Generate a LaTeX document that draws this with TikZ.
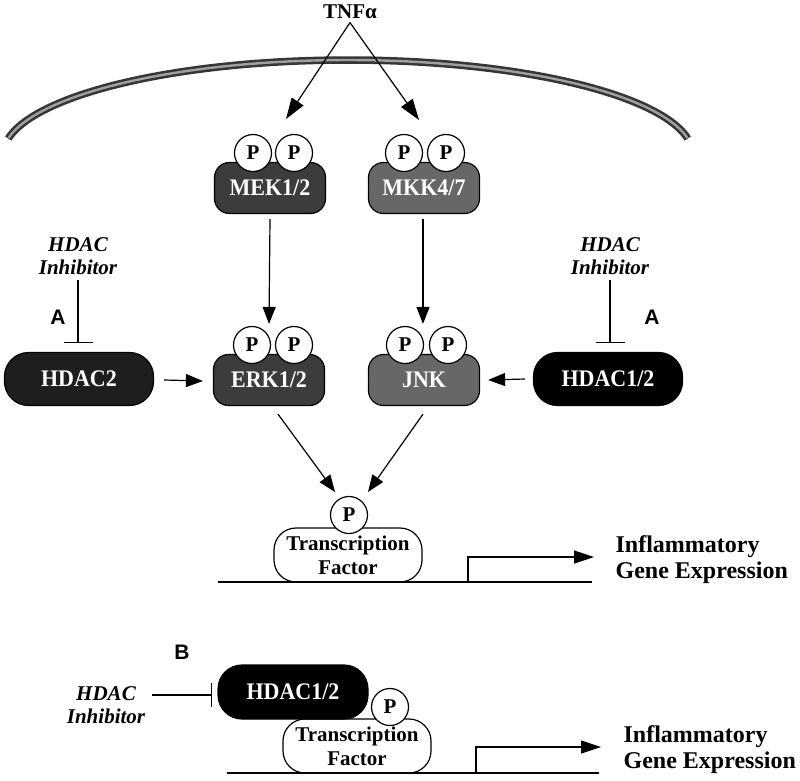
\documentclass[tikz,border=0pt]{standalone}
\usepackage{fontspec}
\usepackage{graphicx}
\setmainfont{Liberation Serif}
\newfontfamily\panelsans{Liberation Sans}
\usetikzlibrary{arrows.meta}
\newcommand{\lab}{\bfseries\fontsize{21}{24}\selectfont}
\newcommand{\blab}{\bfseries\fontsize{22}{24}\selectfont}
\newcommand{\tall}[1]{\scalebox{1}[1.08]{#1}}
\newcommand{\ilab}{\bfseries\itshape\fontsize{21}{23}\selectfont}
\newcommand{\glab}{\bfseries\fontsize{24}{26}\selectfont}
\newcommand{\plab}{\panelsans\bfseries\fontsize{21}{24}\selectfont}
\definecolor{mekc}{HTML}{3C3C3C}
\definecolor{mkkc}{HTML}{676767}
\definecolor{hdtwo}{HTML}{1E1E1E}
\definecolor{memout}{HTML}{363636}
\definecolor{memin}{HTML}{A0A0A0}
\begin{document}
\begin{tikzpicture}[x=1pt,y=-1pt,line width=1.2pt,
  arr/.style={-{Triangle[length=17pt,width=13pt]}},
  bigarr/.style={-{Triangle[length=21pt,width=14pt]}},
  inh/.style={-{Bar[width=29pt]}},
  kin/.style={draw,rounded corners=15pt,minimum width=111pt,minimum height=51pt,inner sep=0pt,text=white,font=\blab},
  hd/.style={draw,rounded corners=24pt,minimum width=149pt,minimum height=53pt,inner sep=0pt,text=white,font=\blab},
  pc/.style={circle,draw,fill=white,minimum size=37pt,inner sep=0pt,font=\lab},
  tfs/.style={draw,fill=white,rounded corners=22pt,minimum width=148pt,minimum height=54pt,inner sep=0pt,align=center,font=\lab},
  inhtext/.style={align=center,font=\ilab,inner sep=0pt},
  gene/.style={anchor=west,align=left,font=\glab,inner sep=0pt},
  panel/.style={font=\plab,inner sep=0pt}]
\useasboundingbox (0,0) rectangle (800,780);

% membrane
\draw[memout,line width=7.5pt] plot[domain=190:350,samples=90] ({348+345*cos(\x)},{155+95*sin(\x)});
\draw[memin,line width=2.4pt] plot[domain=190.35:349.65,samples=90] ({348+345*cos(\x)},{155+95*sin(\x)});

% TNF
\node[font=\lab,inner sep=0pt] (tnf) at (350,12) {TNFα};
\coordinate (tip1) at (286,119);
\coordinate (tip2) at (419,120);
\draw[bigarr] ([yshift=-3pt]tnf.south) -- (tip1);
\draw[bigarr] ([yshift=-3pt]tnf.south) -- (tip2);

% kinases
\node[kin,fill=mekc] (mek) at (270,188) {\tall{MEK1/2}};
\node[pc] (mekp1) at (253,153) {P};
\node[pc] (mekp2) at (294,153) {P};
\node[kin,fill=mkkc] (mkk) at (424,188) {\tall{MKK4/7}};
\node[pc] (mkkp1) at (404,153) {P};
\node[pc] (mkkp2) at (446,153) {P};

\node[kin,fill=mekc] (erk) at (269,380) {\tall{ERK1/2}};
\node[pc] (erkp1) at (252,345) {P};
\node[pc] (erkp2) at (294,345) {P};
\node[kin,fill=mkkc] (jnk) at (424,380) {\tall{JNK}};
\node[pc] (jnkp1) at (405,345) {P};
\node[pc] (jnkp2) at (448,345) {P};

\draw[arr] ([yshift=-5pt]mek.south) -- ([yshift=30pt]erk.north);
\draw[arr] ([xshift=-1pt,yshift=-5pt]mkk.south) -- ([xshift=-1pt,yshift=30pt]jnk.north);

% HDACs (A)
\node[hd,fill=hdtwo] (hdac2) at (79,379) {\tall{HDAC2}};
\node[hd,fill=black] (hdac12) at (608,379) {\tall{HDAC1/2}};
\draw[arr] ([xshift=10pt,yshift=-1pt]hdac2.east) -- ([xshift=-10pt,yshift=-1pt]erk.west);
\draw[arr] ([xshift=-8pt]hdac12.west) -- ([xshift=8pt]jnk.east);

\node[inhtext] (inhL) at (78,256) {HDAC\\Inhibitor};
\node[inhtext] (inhR) at (610,256) {HDAC\\Inhibitor};
\coordinate (barL) at (78,343);
\coordinate (barR) at (610,343);
\draw[inh] ([yshift=-5pt]inhL.south) -- (barL);
\draw[inh] ([yshift=-5pt]inhR.south) -- (barR);
\node[panel] (panA1) at (58,317) {A};
\node[panel] (panA2) at (652,317) {A};

% transcription factor (A)
\node[tfs] (tf) at (348,555) {Transcription\\Factor};
\node[pc] (tfp) at (349,515) {P};
\coordinate (tfa1) at (335,492);
\coordinate (tfa2) at (368,492);
\draw[arr] ([xshift=9pt,yshift=-8pt]erk.south) -- (tfa1);
\draw[arr] ([xshift=-1pt,yshift=-8pt]jnk.south) -- (tfa2);
\coordinate (dnaA1) at (218,582);
\coordinate (dnaA2) at (592,582);
\draw (dnaA1) -- (dnaA2);
\coordinate (promA) at (468,582);
\coordinate (promAt) at (594,557);
\draw[-{Triangle[length=20pt,width=13pt]}] (promA) |- (promAt);
\node[gene] (geneA) at (615,560) {Inflammatory\\Gene Expression};

% panel B
\node[panel] (panB) at (182,652) {B};
\node[tfs] (tfB) at (357,746) {Transcription\\Factor};
\node[hd,fill=black,minimum width=150pt,minimum height=54pt] (hdacB) at (293,692) {\tall{HDAC1/2}};
\node[pc] (pB) at (390,707) {P};
\node[inhtext] (inhB) at (106,705) {HDAC\\Inhibitor};
\draw[-{Bar[width=24pt]}] ([xshift=6pt,yshift=10pt]inhB.east) -- ([xshift=-5pt,yshift=-3pt]hdacB.west);
\coordinate (dnaB1) at (227,773);
\coordinate (dnaB2) at (599,773);
\draw (dnaB1) -- (dnaB2);
\coordinate (promB) at (476,773);
\coordinate (promBt) at (601,747);
\draw[-{Triangle[length=20pt,width=13pt]}] (promB) |- (promBt);
\node[gene] (geneB) at (623,750) {Inflammatory\\Gene Expression};
\end{tikzpicture}
\end{document}
